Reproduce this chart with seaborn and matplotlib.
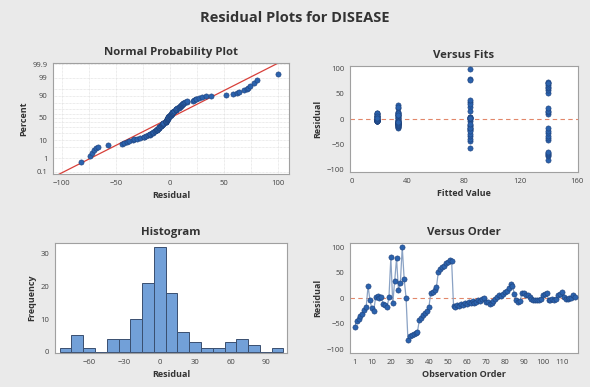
import numpy as np
import pandas as pd
import matplotlib
matplotlib.use("Agg")
import matplotlib.pyplot as plt
import seaborn as sns
from statistics import NormalDist

# ---------------- data ----------------
# residuals in observation order, grouped by fitted value
resid_fit84 = [-57, -44, -40, -34, -30, -22, -18, 24, -4, -20, -24, 2, 4, 0, 3,
               -12, -14, -18, 2, 80, -10, 33, 78, 16, 30, 100, 38, 1]
resid_fit140 = [-82, -74, -72, -70, -68, -66, -42, -38, -33, -28, -24, -18,
                10, 13, 16, 22, 52, 58, 62, 64, 68, 71, 74, 72]
resid_fit33 = [-16, -17, -14, -16, -12, -13, -10, -11, -8, -9, -6, -10, -7, -4,
               -6, -2, 1, -7, -8, -12, -10, -6, -2, 2, 6, 4, 8, 12, 14, 21, 27,
               24, 8, -3, -7, -6, 10, 11, 7]
resid_fit18 = [6, 3, -2, -4, -3, -4, -4, -2, 6, 9, 11, -3, -4, -2, -3, -1, 6, 9,
               12, 2, -2, -1, 0, 1, 6, 2]

fit84 = [84.2] * 28
fit140 = [139.6] * 24
fit33 = [33.1] * 39
fit18 = [18.3] * 26

title = "Residual Plots for DISEASE"
prob_ticks = [0.1, 1, 10, 50, 90, 99, 99.9]
prob_tick_labels = ["0.1", "1", "10", "50", "90", "99", "99.9"]
prob_grid = [0.1, 1, 5, 10, 20, 30, 40, 50, 60, 70, 80, 90, 95, 99, 99.9]
order_ticks = [1, 10, 20, 30, 40, 50, 60, 70, 80, 90, 100, 110]

residuals = np.array(resid_fit84 + resid_fit140 + resid_fit33 + resid_fit18, dtype=float)
fitted = np.array(fit84 + fit140 + fit33 + fit18, dtype=float)
n = len(residuals)
order = np.arange(1, n + 1)
df = pd.DataFrame({"Residual": residuals, "Fitted": fitted, "Order": order})

# ---------------- style ----------------
sns.set_theme(style="white")
plt.rcParams['font.family'] = ['Open Sans', 'DejaVu Sans']
BG = "#eaeaea"
PT = "#2b62ad"
PT_EDGE = "#1d4079"
TICKC = "#444444"
SPINE = "#a0a0a0"

fig = plt.figure(figsize=(5.9, 3.87), dpi=100, facecolor=BG)
W, H = 590, 387

def add_ax(l, t, r, b):
    ax = fig.add_axes([l / W, 1 - b / H, (r - l) / W, (b - t) / H])
    ax.set_facecolor("white")
    for s in ax.spines.values():
        s.set_color(SPINE)
        s.set_linewidth(0.8)
    ax.tick_params(axis="both", which="both", direction="out", length=2.5,
                   width=0.6, color=SPINE, labelsize=5.5, labelcolor=TICKC, pad=1.5)
    return ax

def style_labels(ax, ttl, xl, yl):
    ax.set_title(ttl, fontsize=8.2, fontweight="bold", color="#333333", pad=6)
    ax.set_xlabel(xl, fontsize=6.5, fontweight="bold", color="#333333", labelpad=3)
    ax.set_ylabel(yl, fontsize=6.5, fontweight="bold", color="#333333", labelpad=3)

fig.text(0.5, 1 - 18 / H, title, ha="center", va="center", fontsize=10.5,
         fontweight="bold", color="#333333")

nd = NormalDist()

# ---------- Normal probability plot ----------
ax1 = add_ax(53, 63, 289, 174)
srt = np.sort(residuals)
pp = (np.arange(1, n + 1) - 0.3) / (n + 0.4)
z = np.array([nd.inv_cdf(p) for p in pp])
for g in prob_grid:
    ax1.axhline(nd.inv_cdf(g / 100), color="#d9d9d9", lw=0.5, ls=(0, (1, 1)), zorder=0)
for gx in np.arange(-100, 101, 25):
    ax1.axvline(gx, color="#d9d9d9", lw=0.5, ls=(0, (1, 1)), zorder=0)
mu, sd = residuals.mean(), residuals.std(ddof=1)
xl = np.array([-108, 110])
ax1.plot(xl, (xl - mu) / sd, color="#d8403a", lw=0.9, zorder=2)
sns.scatterplot(x=srt, y=z, ax=ax1, s=14, color=PT, edgecolor=PT_EDGE,
                linewidth=0.4, zorder=3)
ax1.set_xlim(-108, 110)
ax1.set_ylim(-3.22, 3.16)
ax1.set_xticks([-100, -50, 0, 50, 100])
ax1.set_yticks([nd.inv_cdf(p / 100) for p in prob_ticks])
ax1.set_yticklabels(prob_tick_labels)
style_labels(ax1, "Normal Probability Plot", "Residual", "Percent")

# ---------- Versus fits ----------
ax2 = add_ax(350, 66, 578, 172)
ax2.axhline(0, color="#e2876a", lw=0.8, ls=(0, (4, 3)), zorder=1)
sns.scatterplot(data=df, x="Fitted", y="Residual", ax=ax2, s=14, color=PT,
                edgecolor=PT_EDGE, linewidth=0.4, zorder=3)
ax2.set_xlim(-1, 161)
ax2.set_ylim(-105, 105)
ax2.set_xticks([0, 40, 80, 120, 160])
ax2.set_yticks([-100, -50, 0, 50, 100])
style_labels(ax2, "Versus Fits", "Fitted Value", "Residual")

# ---------- Histogram ----------
ax3 = add_ax(55, 243, 287, 353)
sns.histplot(residuals, ax=ax3, binwidth=10, binrange=(-85, 105),
             color="#72a0d8", edgecolor="#3a4f70", linewidth=0.7, alpha=1.0)
ax3.set_xlim(-89, 108)
ax3.set_ylim(-0.4, 33.3)
ax3.set_xticks([-60, -30, 0, 30, 60, 90])
ax3.set_yticks([0, 10, 20, 30])
style_labels(ax3, "Histogram", "Residual", "Frequency")

# ---------- Versus order ----------
ax4 = add_ax(350, 243, 578, 353)
ax4.axhline(0, color="#e2876a", lw=0.8, ls=(0, (4, 3)), zorder=1)
sns.lineplot(data=df, x="Order", y="Residual", ax=ax4, color="#8aa2c4", lw=0.9, zorder=2)
sns.scatterplot(data=df, x="Order", y="Residual", ax=ax4, s=14, color=PT,
                edgecolor=PT_EDGE, linewidth=0.4, zorder=3)
ax4.set_xlim(-1.5, 118.5)
ax4.set_ylim(-107, 108)
ax4.set_xticks(order_ticks)
ax4.set_yticks([-100, -50, 0, 50, 100])
style_labels(ax4, "Versus Order", "Observation Order", "Residual")

fig.savefig("out.png", dpi=100, facecolor=BG)
